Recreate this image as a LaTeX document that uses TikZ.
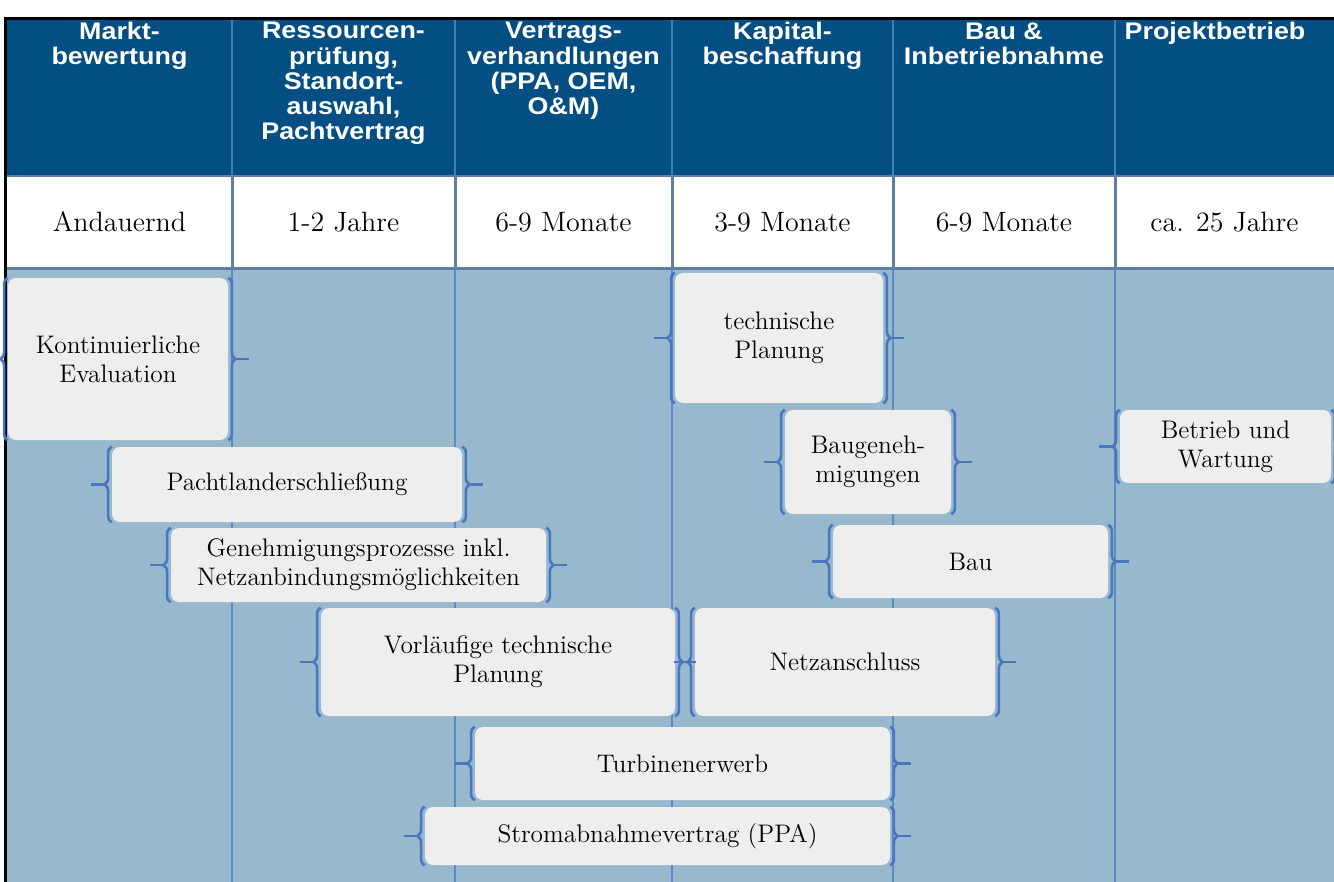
\documentclass[tikz,border=0pt]{standalone}
\usepackage{fontspec}
\newfontfamily\headfont[FakeStretch=1.12]{Liberation Sans}
\usepackage{tikz}
\usetikzlibrary{decorations.pathreplacing, positioning, calc}

\definecolor{headblue}{HTML}{034E83}
\definecolor{headline}{HTML}{3F7FB8}
\definecolor{bodyblue}{HTML}{98B8CD}
\definecolor{gridblue}{HTML}{5B8BC5}
\definecolor{cellline}{HTML}{5E7FA3}
\definecolor{bracecol}{HTML}{4A76C0}
\definecolor{boxgray}{HTML}{EEEEEE}

\tikzset{
  phase/.style={text=white, font=\headfont\bfseries\fontsize{12pt}{12.6pt}\selectfont,
    align=center, anchor=north, inner sep=0pt},
  dauer/.style={font=\fontsize{14pt}{16pt}\selectfont, inner sep=0pt},
  task/.style={fill=boxgray, rounded corners=4pt, align=center, inner sep=0pt,
    font=\fontsize{12.7pt}{14.5pt}\selectfont},
  taskbrace/.style={draw=bracecol, line width=1.3pt, decorate,
    decoration={brace, amplitude=3.5pt}},
  bracetick/.style={draw=bracecol, line width=1.3pt},
}

\begin{document}
\begin{tikzpicture}[x=0.5pt, y=-0.5pt]
  \useasboundingbox (0,0) rectangle (1334,882);
  \clip (0,0) rectangle (1334,882);

  % Kopfzeile
  \fill[headblue] (6,20) rectangle (1334,175);
  \foreach \x in {232,455,672,893,1115}
    \draw[headline, line width=0.8pt] (\x,20) -- (\x,175);

  % Dauerzeile
  \fill[white] (6,175) rectangle (1334,269);
  \foreach \x in {232,455,672,893,1115}
    \draw[cellline, line width=1.5pt] (\x,175) -- (\x,270);
  \draw[cellline, line width=1.2pt] (6,176) -- (1334,176);
  \draw[cellline, line width=1.5pt] (6,269) -- (1334,269);

  % Hintergrund
  \fill[bodyblue] (6,270) rectangle (1334,882);
  \foreach \x in {232,455,672,893,1115}
    \draw[gridblue, line width=1pt] (\x,270) -- (\x,882);

  % Rahmen
  \draw[black, line width=1.5pt] (5,882) -- (5,19) -- (1334,19);

  % Phasen
  \foreach \x/\n/\t in {119.5/h1/{Markt-\\bewertung},
      343.5/h2/{Ressourcen-\\prüfung,\\Standort-\\auswahl,\\Pachtvertrag},
      563.5/h3/{Vertrags-\\verhandlungen\\(PPA, OEM,\\O\&M)},
      782.5/h4/{Kapital-\\beschaffung},
      1004/h5/{Bau \&\\Inbetriebnahme},
      1215/h6/{Projektbetrieb}}
    \node[phase] (\n) at (\x,22) {\t};

  % Dauer
  \foreach \x/\n/\t in {119.5/d1/Andauernd, 343.5/d2/1-2 Jahre,
      563.5/d3/6-9 Monate, 782.5/d4/3-9 Monate,
      1004/d5/6-9 Monate, 1224.5/d6/ca. 25 Jahre}
    \node[dauer] (\n) at (\x,222) {\t};

  % Aufgaben
  \node[task, minimum width=110pt, minimum height=81pt] (eval) at (118,359) {Kontinuierliche\\Evaluation};
  \node[task, minimum width=175pt, minimum height=37.5pt] (pacht) at (287,484.5) {Pachtlanderschließung};
  \node[task, minimum width=187.5pt, minimum height=37pt] (gen) at (358.5,565) {Genehmigungsprozesse inkl.\\Netzanbindungsmöglichkeiten};
  \node[task, minimum width=177pt, minimum height=54pt] (vorl) at (498,662) {Vorläufige technische\\Planung};
  \node[task, minimum width=150pt, minimum height=54pt] (netz) at (845,662) {Netzanschluss};
  \node[task, minimum width=104pt, minimum height=65pt] (tech) at (779,338) {technische\\Planung};
  \node[task, minimum width=83pt, minimum height=52pt] (baug) at (868,462) {Baugeneh-\\migungen};
  \node[task, minimum width=105.5pt, minimum height=36.5pt] (betr) at (1225.5,446.5) {Betrieb und\\Wartung};
  \node[task, minimum width=137.5pt, minimum height=36.5pt] (bau) at (970.5,561.5) {Bau};
  \node[task, minimum width=207.5pt, minimum height=36.5pt] (turb) at (682.5,763.5) {Turbinenerwerb};
  \node[task, minimum width=232.5pt, minimum height=29pt] (ppa) at (657.5,836) {Stromabnahmevertrag (PPA)};

  % Klammern
  \foreach \b in {eval,pacht,gen,vorl,netz,tech,baug,betr,bau,turb,ppa} {
    \draw[taskbrace] (\b.south west) -- (\b.north west);
    \draw[taskbrace] (\b.north east) -- (\b.south east);
    \draw[bracetick] ([xshift=-3.5pt]\b.west) -- ++(-14,0);
    \draw[bracetick] ([xshift=3.5pt]\b.east) -- ++(14,0);
  }
\end{tikzpicture}
\end{document}
